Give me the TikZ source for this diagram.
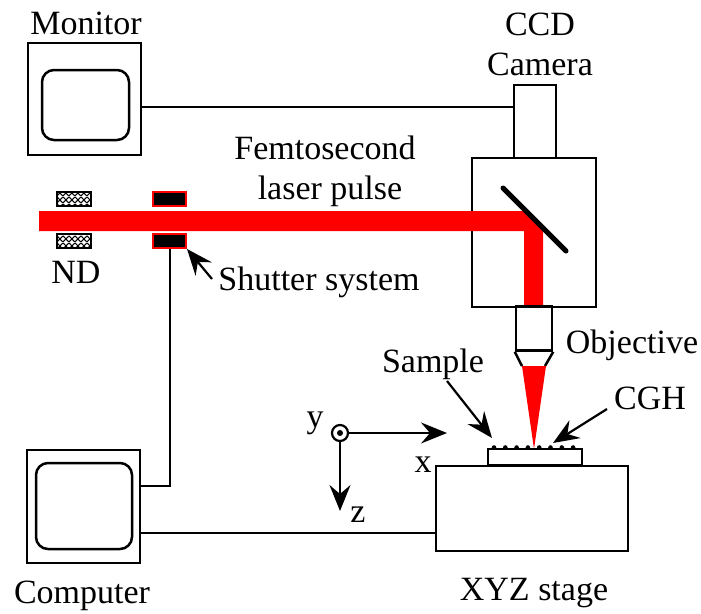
\documentclass[tikz,border=0pt]{standalone}
\usepackage{fontspec}
\setmainfont{Liberation Serif}
\usetikzlibrary{arrows.meta,patterns}
\definecolor{beamred}{RGB}{255,0,0}
\pgfdeclarepatternformonly{ndhatch}{\pgfpointorigin}{\pgfqpoint{6.4pt}{6.4pt}}{\pgfqpoint{6.4pt}{6.4pt}}{
  \pgfsetlinewidth{1.1pt}
  \pgfpathmoveto{\pgfpointorigin}\pgfpathlineto{\pgfqpoint{6.4pt}{6.4pt}}
  \pgfpathmoveto{\pgfqpoint{0pt}{6.4pt}}\pgfpathlineto{\pgfqpoint{6.4pt}{0pt}}
  \pgfusepath{stroke}
}
\tikzset{
  box/.style={draw, line width=2.5pt, inner sep=0pt},
  wire/.style={line width=2pt},
  pointer/.style={line width=2.2pt, -{Stealth[length=26pt,width=21pt,inset=9pt]}},
  lbl/.style={inner sep=0pt, font=\fontsize{34}{36}\selectfont},
  beam/.style={fill=beamred, draw=none},
}
\begin{document}
\begin{tikzpicture}[x=1pt, y=-1pt]
\useasboundingbox (0,0) rectangle (701,613);
% Monitor
\node[box, minimum width=113pt, minimum height=112pt] (monitor) at (84.5,99) {};
\node[box, rounded corners=12pt, minimum width=87pt, minimum height=70pt] (monitorscreen) at (85.5,105) {};
\node[lbl, anchor=base] (monitorlbl) at (86,34) {Monitor};
% camera and head
\node[box, minimum width=42pt, minimum height=73pt] (camera) at (535,121.5) {};
\node[box, minimum width=124pt, minimum height=149pt] (head) at (534,232.5) {};
\node[lbl, anchor=base] (ccdlbl) at (540,35) {CCD};
\node[lbl, anchor=base] (cameralbl) at (540,75) {Camera};
\coordinate (monitorwire) at (88,106.5);
\draw[wire] (monitor.east |- monitorwire) -- (camera.west |- monitorwire);
% laser
\fill[beam] (39,211) -- (526,211) -- (543,230) -- (543,307) -- (524,307) -- (524,231) -- (39,231) -- cycle;
\coordinate (mirrora) at (503,188);
\coordinate (mirrorb) at (566,251);
\draw[line width=5pt, line cap=round] (mirrora) -- (mirrorb);
\node[lbl, anchor=base] (pulselbl) at (325,159) {Femtosecond};
\node[lbl, anchor=base] (pulselbl2) at (330,199) {laser pulse};
% ND
\foreach \n/\y in {nda/199, ndb/241}{
  \node[box, line width=2.2pt, pattern=ndhatch, minimum width=34pt, minimum height=14pt] (\n) at (74,\y) {};
}
\node[lbl, anchor=base] (ndlbl) at (76,283) {ND};
% shutter
\foreach \n/\y in {shuta/199, shutb/241}{
  \node[draw=beamred, fill=black, line width=2pt, minimum width=33pt, minimum height=14pt, inner sep=0pt] (\n) at (169.5,\y) {};
}
\node[lbl, anchor=base] (shutlbl) at (319,290) {Shutter system};
\coordinate (shuttail) at (212,279);
\draw[pointer] (shuttail) -- (shutb.south east);
% objective
\node[box, minimum width=36pt, minimum height=44pt] (objective) at (534,328.5) {};
\coordinate (conel) at (522,366);
\coordinate (coner) at (545,366);
\draw[box] (objective.south west) -- (conel);
\draw[box] (objective.south east) -- (coner);
\fill[beam] (522,366) -- (546,366) -- (534,449) -- cycle;
\node[lbl, anchor=base] (objlbl) at (632,353) {Objective};
% stage
\node[box, minimum width=192pt, minimum height=85pt] (stage) at (532,508.5) {};
\node[box, minimum width=94pt, minimum height=16pt] (sample) at (535,457) {};
\foreach \x in {0,...,7}{
  \fill (494+11.3*\x,447.5) circle (2.3pt);
}
\node[lbl, anchor=base] (samplelbl) at (433,372) {Sample};
\node[lbl, anchor=base] (cghlbl) at (650,409) {CGH};
\node[lbl, anchor=base] (stagelbl) at (534,600) {XYZ stage};
\coordinate (sampletail) at (447,381);
\coordinate (sampletip) at (492,438);
\coordinate (cghtail) at (607,409);
\coordinate (cghtip) at (553,443);
\draw[pointer] (sampletail) -- (sampletip);
\draw[pointer] (cghtail) -- (cghtip);
% axes
\node[draw, circle, line width=2.2pt, minimum size=16pt, inner sep=0pt] (origin) at (340,433) {};
\fill (origin.center) circle (3pt);
\coordinate (xtip) at (447,433);
\coordinate (ztip) at (340,511);
\draw[pointer] (origin.east) -- (xtip);
\draw[pointer] (origin.south) -- (ztip);
\node[lbl, anchor=base] (ylbl) at (315,427) {y};
\node[lbl, anchor=base] (xlbl) at (423,472) {x};
\node[lbl, anchor=base] (zlbl) at (358,522) {z};
% Computer
\node[box, minimum width=113pt, minimum height=113pt] (computer) at (83.5,506.5) {};
\node[box, rounded corners=12pt, minimum width=96pt, minimum height=86pt] (computerscreen) at (84,506) {};
\node[lbl, anchor=base] (computerlbl) at (82,603) {Computer};
\coordinate (shutwire) at (169.5,486);
\coordinate (stagewire) at (134,533);
\draw[wire] (shutb.south) -- (shutwire) -- (computer.east |- shutwire);
\draw[wire] (computer.east |- stagewire) -- (stage.west |- stagewire);
\end{tikzpicture}
\end{document}
